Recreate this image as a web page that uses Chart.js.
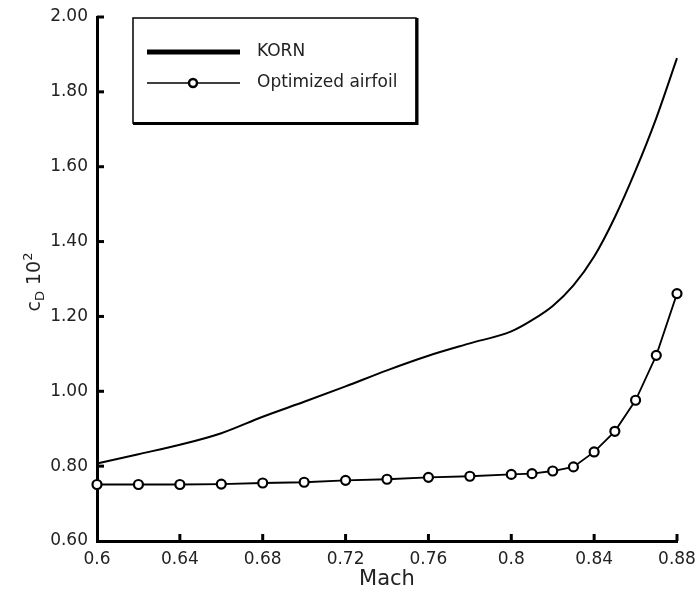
<!DOCTYPE html>
<html><head><meta charset="utf-8">
<script src="https://cdn.jsdelivr.net/npm/chart.js@4.4.1/dist/chart.umd.min.js"></script>
<style>html,body{margin:0;padding:0;background:#fff}#wrap{width:697px;height:595px}</style>
</head><body><div id="wrap"><canvas id="c" width="697" height="595"></canvas></div>
<script>
// ---- data ----
const machKorn = [0.60,0.62,0.64,0.66,0.68,0.70,0.72,0.74,0.76,0.78,0.80,0.81,0.82,0.83,0.84,0.85,0.86,0.87,0.88];
const cdKorn   = [0.807,0.832,0.857,0.888,0.932,0.972,1.013,1.056,1.095,1.128,1.160,1.190,1.228,1.283,1.360,1.465,1.590,1.730,1.890];
const machOpt  = [0.60,0.62,0.64,0.66,0.68,0.70,0.72,0.74,0.76,0.78,0.80,0.81,0.82,0.83,0.84,0.85,0.86,0.87,0.88];
const cdOpt    = [0.751,0.751,0.751,0.752,0.755,0.757,0.762,0.765,0.770,0.773,0.778,0.780,0.787,0.798,0.838,0.893,0.976,1.096,1.261];
const xTicks = [0.6,0.64,0.68,0.72,0.76,0.8,0.84,0.88];
const yTicks = [0.6,0.8,1.0,1.2,1.4,1.6,1.8,2.0];
const seriesNames = ['KORN','Optimized airfoil'];
const xTitle = 'Mach';
const yTitleParts = ['c','D',' 10','2'];

const FONT = '"DejaVu Sans", sans-serif';
const TXT = '#222';

const inwardTicks = {
  id:'inwardTicks',
  afterDraw(chart){
    const {ctx, scales:{x,y}} = chart;
    ctx.save();
    ctx.strokeStyle='#000'; ctx.lineWidth=3;
    const yb = y.getPixelForValue(y.min);
    x.ticks.forEach(t=>{const px=x.getPixelForValue(t.value); if(t.value===x.min) return;
      ctx.beginPath(); ctx.moveTo(px,yb); ctx.lineTo(px,yb-7); ctx.stroke();});
    const xl = x.getPixelForValue(x.min);
    y.ticks.forEach(t=>{const py=y.getPixelForValue(t.value); if(t.value===y.min) return;
      ctx.beginPath(); ctx.moveTo(xl,py); ctx.lineTo(xl+7,py); ctx.stroke();});
    ctx.restore();
  }
};

const boxLegend = {
  id:'boxLegend',
  afterDraw(chart){
    const ctx = chart.ctx;
    ctx.save();
    const L=133,T=18,R=416,B=123;
    ctx.fillStyle='#fff'; ctx.fillRect(L,T,R-L,B-T);
    ctx.strokeStyle='#000'; ctx.lineWidth=1.5;
    ctx.strokeRect(L,T,R-L,B-T);
    ctx.lineWidth=3;
    ctx.beginPath(); ctx.moveTo(L,B+0.5); ctx.lineTo(R+1,B+0.5); ctx.lineTo(R+1,T); ctx.stroke();
    ctx.lineWidth=5;
    ctx.beginPath(); ctx.moveTo(147,52); ctx.lineTo(240,52); ctx.stroke();
    ctx.lineWidth=1.5;
    ctx.beginPath(); ctx.moveTo(147,83); ctx.lineTo(240,83); ctx.stroke();
    ctx.beginPath(); ctx.arc(193,83,4,0,Math.PI*2); ctx.fillStyle='#fff'; ctx.fill();
    ctx.lineWidth=2.5; ctx.stroke();
    ctx.fillStyle=TXT; ctx.font='17px '+FONT; ctx.textBaseline='middle'; ctx.textAlign='left';
    ctx.fillText(seriesNames[0],257,52);
    ctx.fillText(seriesNames[1],257,83);
    ctx.restore();
  }
};

const yTitle = {
  id:'yTitle',
  afterDraw(chart){
    const ctx=chart.ctx;
    ctx.save();
    ctx.translate(33,282); ctx.rotate(-Math.PI/2);
    ctx.fillStyle=TXT; ctx.textBaseline='alphabetic'; ctx.textAlign='left';
    const big='19px '+FONT, small='13px '+FONT;
    ctx.font=big; const w0=ctx.measureText(yTitleParts[0]).width, w2=ctx.measureText(yTitleParts[2]).width;
    ctx.font=small; const w1=ctx.measureText(yTitleParts[1]).width, w3=ctx.measureText(yTitleParts[3]).width;
    let x=-(w0+w1+w2+w3)/2; const base=7;
    ctx.font=big; ctx.fillText(yTitleParts[0],x,base); x+=w0;
    ctx.font=small; ctx.fillText(yTitleParts[1],x,base+4); x+=w1;
    ctx.font=big; ctx.fillText(yTitleParts[2],x,base); x+=w2;
    ctx.font=small; ctx.fillText(yTitleParts[3],x,base-8);
    ctx.restore();
  }
};

new Chart(document.getElementById('c'),{
  type:'line',
  data:{datasets:[
    {label:seriesNames[0], data:machKorn.map((m,i)=>({x:m,y:cdKorn[i]})), borderColor:'#000', borderWidth:2,
     pointRadius:0, cubicInterpolationMode:'monotone', fill:false, clip:false},
    {label:seriesNames[1], data:machOpt.map((m,i)=>({x:m,y:cdOpt[i]})), borderColor:'#000', borderWidth:1.8,
     pointRadius:4.5, pointBorderWidth:2.2, pointBackgroundColor:'#fff', pointBorderColor:'#000', tension:0, fill:false, clip:false}
  ]},
  options:{
    responsive:false, animation:false, devicePixelRatio:1,
    layout:{padding:{top:17,right:20,left:0,bottom:0}},
    plugins:{legend:{display:false},tooltip:{enabled:false}},
    scales:{
      x:{type:'linear',min:0.6,max:0.88,
        afterBuildTicks:s=>{s.ticks=xTicks.map(v=>({value:v}));},
        afterFit:s=>{s.height=54; s.paddingLeft=0; s.paddingRight=0;},
        grid:{display:false,drawTicks:false},
        border:{display:true,color:'#000',width:3},
        ticks:{padding:8,color:TXT,font:{size:17,family:FONT},maxRotation:0,autoSkip:false,
          callback:v=>String(+(+v).toFixed(2))},
        title:{display:true,text:xTitle,color:TXT,font:{size:21,family:FONT},padding:{top:0,bottom:3}}
      },
      y:{type:'linear',min:0.6,max:2.0,
        afterBuildTicks:s=>{s.ticks=yTicks.map(v=>({value:v}));},
        afterFit:s=>{s.width=97; s.paddingTop=0; s.paddingBottom=0;},
        grid:{display:false,drawTicks:false},
        border:{display:true,color:'#000',width:3},
        ticks:{padding:9,color:TXT,font:{size:17,family:FONT},autoSkip:false,
          callback:v=>(+v).toFixed(2)}
      }
    }
  },
  plugins:[inwardTicks,boxLegend,yTitle]
});
</script></body></html>
